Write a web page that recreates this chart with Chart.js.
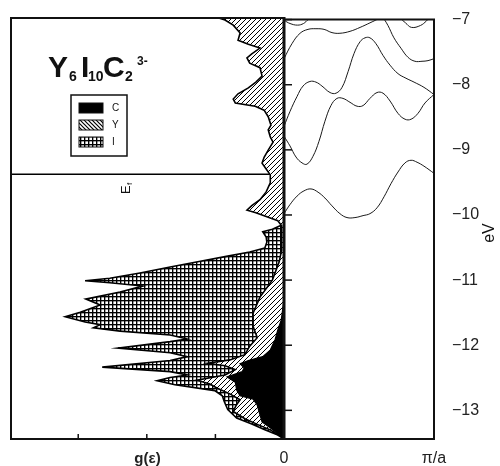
<!DOCTYPE html>
<html>
<head>
<meta charset="utf-8">
<script src="https://cdn.jsdelivr.net/npm/chart.js@4/dist/chart.umd.min.js"></script>
<style>
  html, body { margin: 0; padding: 0; background: #fff; }
  #wrap { position: relative; width: 500px; height: 466px; }
  #wrap canvas { position: absolute; left: 0; top: 0; }
</style>
</head>
<body>
<div id="wrap">
  <canvas id="dos" width="500" height="466"></canvas>
  <canvas id="bands" width="500" height="466"></canvas>
</div>
<script>
/* ---------- axis ranges / ticks ---------- */
const eMin = -13.44, eMax = -7;
const eTicks = [-13, -12, -11, -10, -9, -8, -7];
const gMax = 3.98;
const gTicks = [1, 2, 3];
const kTicks = [0, 1];
const kLabels = ["0", "π/a"];
const fermiE = -9.39;

/* ---------- density of states (cumulative outlines) ---------- */
// C + Y contribution (hatched outline), whole range
const dosYE = [-6.98,-7.03,-7.11,-7.23,-7.34,-7.40,-7.46,-7.55,-7.61,-7.69,-7.76,-7.89,-7.98,-8.07,-8.16,-8.24,-8.30,-8.35,-8.41,-8.51,-8.64,-8.71,-8.82,-8.90,-9.02,-9.13,-9.22,-9.31,-9.40,-9.52,-9.66,-9.78,-9.87,-9.94,-9.98,-10.03,-10.10,-10.17,
  -10.21,-10.55,-10.73,-11.01,-11.27,-11.51,-11.72,-11.89,-12.02,-12.15,-12.23,-12.28,-12.32,-12.38,-12.46,-12.54,-12.60,-12.66,-12.75,-12.84,-12.93,-13.02,-13.13,-13.22,-13.30,-13.39,-13.44];
const dosYG = [1.01,0.86,0.74,0.64,0.67,0.52,0.35,0.47,0.54,0.50,0.35,0.32,0.41,0.52,0.67,0.74,0.71,0.42,0.29,0.23,0.19,0.23,0.20,0.16,0.23,0.29,0.32,0.26,0.20,0.20,0.26,0.35,0.47,0.54,0.41,0.28,0.09,0.04,
  0.03,0.04,0.07,0.17,0.35,0.45,0.45,0.39,0.50,0.57,0.79,1.11,0.86,0.71,0.86,1.27,1.08,0.98,0.79,0.64,0.70,0.74,0.57,0.38,0.20,0.06,0];

// total (I + Y + C, crosshatched outline)
const dosTotalE = [-10.17,-10.23,-10.27,-10.35,-10.43,-10.52,-10.58,-10.65,-10.72,-10.81,-10.90,-10.98,-11.02,-11.05,-11.10,-11.19,-11.30,-11.39,-11.50,-11.57,-11.65,-11.69,-11.74,-11.79,-11.85,-11.91,-11.95,-12.05,-12.12,-12.18,-12.24,-12.34,-12.41,-12.46,-12.50,-12.55,-12.61,-12.70,-12.78,-12.87,-12.99,-13.12,-13.21,-13.30,-13.38,-13.44];
const dosTotalG = [0.04,0.17,0.31,0.26,0.25,0.28,0.50,0.86,1.22,1.66,2.10,2.54,2.90,2.54,2.06,2.39,2.89,2.68,2.97,3.19,2.90,2.68,2.78,2.39,1.66,1.41,1.66,2.42,1.66,1.41,1.66,2.65,1.66,1.41,1.66,1.85,1.59,1.01,0.90,0.87,0.82,0.69,0.47,0.28,0.09,0];

// C contribution (black)
const dosCE = [-11.31,-11.62,-11.77,-11.92,-12.08,-12.18,-12.24,-12.29,-12.35,-12.41,-12.49,-12.57,-12.69,-12.78,-12.83,-12.92,-13.07,-13.18,-13.27,-13.36,-13.42];
const dosCG = [0,0.04,0.09,0.13,0.20,0.31,0.52,0.64,0.58,0.61,0.83,0.71,0.69,0.64,0.45,0.39,0.35,0.32,0.20,0.09,0];

/* ---------- band structure, k in units of pi/a ---------- */
const bandAK = [0,0.04,0.09,0.13,0.16,0.18];
const bandAE = [-7.01,-7.06,-7.085,-7.06,-7.0,-6.96];
const bandA2K = [0.77,0.81,0.85,0.91,0.95,0.97];
const bandA2E = [-6.97,-7.05,-7.12,-7.09,-7.02,-6.97];
const bandBK = [0,0.053,0.107,0.16,0.213,0.267,0.32,0.373,0.44,0.507,0.573,0.627,0.667];
const bandBE = [-7.60,-7.37,-7.21,-7.15,-7.14,-7.15,-7.20,-7.21,-7.18,-7.12,-7.05,-6.99,-6.94];
const bandCK = [0.653,0.693,0.733,0.78,0.827,0.873,0.92,0.96,1.0];
const bandCE = [-6.94,-7.09,-7.28,-7.44,-7.58,-7.64,-7.64,-7.63,-7.60];
const bandDK = [0,.04,.087,.127,.173,.213,.253,.307,.347,.387,.427,.467,.507,.54,.573,.613,.66,.707,.76,.813,.867,.933,1];
const bandDE = [-8.64,-8.41,-8.18,-8.02,-7.95,-7.96,-8.02,-8.12,-8.13,-8.04,-7.80,-7.52,-7.34,-7.28,-7.28,-7.37,-7.55,-7.70,-7.83,-7.90,-7.96,-8.04,-8.15];
const bandEK = [0,.04,.08,.12,.153,.193,.233,.273,.313,.353,.393,.44,.487,.527,.573,.62,.66,.707,.76,.807,.847,.893,.94,1];
const bandEE = [-8.79,-8.94,-9.11,-9.20,-9.22,-9.10,-8.87,-8.56,-8.32,-8.21,-8.21,-8.27,-8.33,-8.32,-8.21,-8.12,-8.13,-8.25,-8.44,-8.53,-8.53,-8.44,-8.28,-8.15];
const bandFK = [0,.04,.087,.133,.18,.227,.273,.32,.373,.42,.473,.527,.573,.62,.667,.713,.76,.807,.847,.887,.933,1];
const bandFE = [-9.98,-9.84,-9.71,-9.63,-9.60,-9.65,-9.74,-9.86,-9.98,-10.04,-10.04,-10.01,-9.98,-9.89,-9.72,-9.52,-9.34,-9.20,-9.16,-9.19,-9.25,-9.36];

/* ---------- helpers ---------- */
const pairs = (xs, ys) => xs.map((v, i) => ({ x: v, y: ys[i] }));

function makePattern(size, draw) {
  const c = document.createElement("canvas");
  c.width = c.height = size;
  const p = c.getContext("2d");
  p.fillStyle = "#fff";
  p.fillRect(0, 0, size, size);
  p.strokeStyle = "#000";
  p.fillStyle = "#000";
  draw(p, size);
  return p.createPattern(c, "repeat");
}
const hatchFwd = makePattern(5, (p, s) => {
  p.lineWidth = 1;
  p.beginPath();
  p.moveTo(0, s); p.lineTo(s, 0);
  p.moveTo(-1, 1); p.lineTo(1, -1);
  p.moveTo(s - 1, s + 1); p.lineTo(s + 1, s - 1);
  p.stroke();
});
const hatchBack = makePattern(4, (p, s) => {
  p.lineWidth = 1.2;
  p.beginPath();
  p.moveTo(0, 0); p.lineTo(s, s);
  p.moveTo(-1, s - 1); p.lineTo(1, s + 1);
  p.moveTo(s - 1, -1); p.lineTo(s + 1, 1);
  p.stroke();
});
const crossHatch = makePattern(4, (p, s) => {
  p.fillRect(0, 0, s, 1);
  p.fillRect(0, 0, 1, s);
  p.fillStyle = "rgba(0,0,0,0.35)";
  p.fillRect(0, 1, s, 1);
  p.fillRect(1, 0, 1, s);
});

Chart.defaults.font.family = "'Liberation Sans', Arial, sans-serif";
Chart.defaults.color = "#222";

/* -------------------------
   LEFT PANEL DECORATION
------------------------- */
const dosDecor = {
  id: "dosDecor",
  afterDraw(chart) {
    const { ctx, chartArea: a, scales: { x } } = chart;
    ctx.save();
    ctx.strokeStyle = "#111";
    ctx.fillStyle = "#111";

    // frame + thick zero axis
    ctx.lineWidth = 2;
    ctx.strokeRect(a.left, a.top, a.right - a.left, a.bottom - a.top);
    ctx.lineWidth = 3;
    ctx.beginPath();
    ctx.moveTo(a.right, a.top - 1);
    ctx.lineTo(a.right, a.bottom + 1);
    ctx.stroke();

    // inward ticks on g(e)
    ctx.lineWidth = 1.5;
    gTicks.forEach(v => {
      const px = x.getPixelForValue(v);
      ctx.beginPath();
      ctx.moveTo(px, a.bottom);
      ctx.lineTo(px, a.bottom - 5);
      ctx.stroke();
    });

    // E_f label (rotated)
    ctx.save();
    ctx.translate(126, 194);
    ctx.rotate(-Math.PI / 2);
    ctx.textBaseline = "middle";
    ctx.font = "13px 'Liberation Sans'";
    ctx.fillText("E", 0, 0);
    ctx.font = "8px 'Liberation Sans'";
    ctx.fillText("f", 9, 4);
    ctx.restore();

    // formula title
    ctx.textBaseline = "alphabetic";
    ctx.font = "bold 30px 'Liberation Sans'";
    ctx.fillText("Y", 48, 77);
    ctx.fillText("I", 81, 77);
    ctx.fillText("C", 103, 77);
    ctx.font = "bold 14px 'Liberation Sans'";
    ctx.fillText("6", 69, 81);
    ctx.fillText("10", 88, 81);
    ctx.fillText("2", 125, 81);
    ctx.font = "bold 12px 'Liberation Sans'";
    ctx.fillText("3-", 137, 65);

    // legend box
    ctx.lineWidth = 1.5;
    ctx.strokeRect(71, 95, 56, 61);
    const swatches = [
      { fill: chart.data.datasets[0].backgroundColor, label: chart.data.datasets[0].label, y: 103 },
      { fill: hatchBack, label: chart.data.datasets[1].label, y: 120 },
      { fill: chart.data.datasets[2].backgroundColor, label: chart.data.datasets[2].label, y: 137 }
    ];
    ctx.font = "10px 'Liberation Sans'";
    ctx.textBaseline = "middle";
    swatches.forEach(s => {
      ctx.fillStyle = s.fill;
      ctx.fillRect(79, s.y, 24, 10);
      ctx.lineWidth = 1;
      ctx.strokeRect(79, s.y, 24, 10);
      ctx.fillStyle = "#111";
      ctx.fillText(s.label, 112, s.y + 5);
    });
    ctx.restore();
  }
};

/* -------------------------
   RIGHT PANEL DECORATION
------------------------- */
const bandDecor = {
  id: "bandDecor",
  afterDraw(chart) {
    const { ctx, chartArea: a, scales: { y } } = chart;
    ctx.save();
    ctx.strokeStyle = "#111";
    ctx.fillStyle = "#111";
    ctx.lineWidth = 2;
    ctx.beginPath();
    ctx.moveTo(a.left, a.top);
    ctx.lineTo(a.right, a.top);
    ctx.lineTo(a.right, a.bottom);
    ctx.lineTo(a.left, a.bottom);
    ctx.stroke();

    ctx.lineWidth = 1.5;
    eTicks.forEach(v => {
      const py = y.getPixelForValue(v);
      ctx.beginPath();
      ctx.moveTo(a.left, py);
      ctx.lineTo(a.left + 8, py);
      ctx.stroke();
    });

    ctx.save();
    ctx.translate(490, 233);
    ctx.rotate(-Math.PI / 2);
    ctx.textAlign = "center";
    ctx.textBaseline = "middle";
    ctx.font = "16px 'Liberation Sans'";
    ctx.fillText("eV", 0, 0);
    ctx.restore();
    ctx.restore();
  }
};

/* -------------------------
   DOS CHART
------------------------- */
new Chart(document.getElementById("dos"), {
  type: "line",
  data: {
    datasets: [
      { label: "C", data: pairs(dosCG, dosCE), backgroundColor: "#000", borderColor: "#000", borderWidth: 1.2, fill: "origin", order: 1 },
      { label: "Y", data: pairs(dosYG, dosYE), backgroundColor: hatchFwd, borderColor: "#000", borderWidth: 1.6, fill: "origin", order: 2 },
      { label: "I", data: pairs(dosTotalG, dosTotalE), backgroundColor: crossHatch, borderColor: "#000", borderWidth: 1.6, fill: "origin", order: 3 },
      { label: "Ef", data: [{ x: gMax, y: fermiE }, { x: 0, y: fermiE }], borderColor: "#000", borderWidth: 1.5, fill: false, order: 4 }
    ]
  },
  options: {
    indexAxis: "y",
    responsive: false,
    animation: false,
    elements: { point: { radius: 0 }, line: { tension: 0 } },
    layout: { padding: { left: 11, right: 216, top: 18, bottom: 0 } },
    scales: {
      x: {
        type: "linear", min: 0, max: gMax, reverse: true,
        grid: { display: false }, border: { display: false },
        ticks: { display: false },
        title: { display: true, text: "g(ε)", font: { size: 15, weight: "bold", lineHeight: 1 }, color: "#222", padding: { top: 0, bottom: 0 } },
        afterFit: s => { s.height = 27; }
      },
      y: { type: "linear", min: eMin, max: eMax, display: false }
    },
    plugins: { legend: { display: false }, tooltip: { enabled: false } }
  },
  plugins: [dosDecor]
});

/* -------------------------
   BAND CHART
------------------------- */
const bandList = [
  [bandAK, bandAE], [bandA2K, bandA2E], [bandBK, bandBE], [bandCK, bandCE],
  [bandDK, bandDE], [bandEK, bandEE], [bandFK, bandFE]
];

new Chart(document.getElementById("bands"), {
  type: "line",
  data: {
    datasets: bandList.map(([k, e]) => ({
      data: pairs(k, e), borderColor: "#1a1a1a", borderWidth: 1, fill: false, tension: 0.4
    }))
  },
  options: {
    responsive: false,
    animation: false,
    elements: { point: { radius: 0 } },
    layout: { padding: { left: 284, right: 0, top: 18, bottom: 0 } },
    scales: {
      x: {
        type: "linear", min: 0, max: 1,
        grid: { display: false }, border: { display: false },
        afterBuildTicks: s => { s.ticks = kTicks.map(v => ({ value: v })); },
        ticks: { callback: (v, i) => kLabels[i], font: { size: 16 }, color: "#222", padding: 2, maxRotation: 0, autoSkip: false },
        afterFit: s => { s.height = 27; }
      },
      y: {
        type: "linear", position: "right", min: eMin, max: eMax,
        grid: { display: false }, border: { display: false },
        afterBuildTicks: s => { s.ticks = eTicks.map(v => ({ value: v })); },
        ticks: { callback: v => "\u2212" + Math.abs(v), font: { size: 16 }, color: "#222", padding: 10, autoSkip: false },
        afterFit: s => { s.width = 66; }
      }
    },
    plugins: { legend: { display: false }, tooltip: { enabled: false } }
  },
  plugins: [bandDecor]
});
</script>
</body>
</html>
